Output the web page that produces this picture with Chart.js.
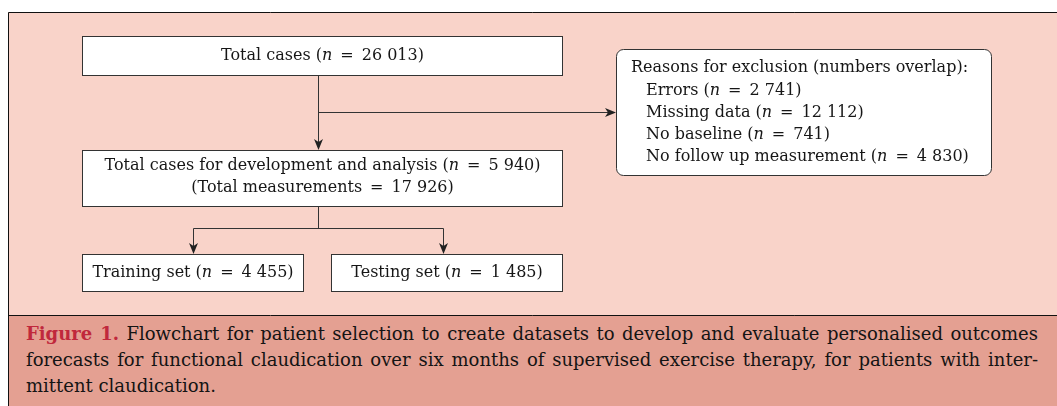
<!DOCTYPE html>
<html>
<head>
<meta charset="utf-8">
<script src="https://cdn.jsdelivr.net/npm/chart.js@4.4.1/dist/chart.umd.min.js"></script>
<style>
  html, body { margin: 0; padding: 0; background: #fff; }
  #wrap { position: relative; width: 1057px; height: 406px; overflow: hidden; }
  #caption {
    position: absolute; left: 9px; top: 316px; width: 1048px; height: 90px;
    background: #e4a092; box-sizing: border-box;
    padding: 5px 19px 0 17px;
    font-family: "DejaVu Serif", serif; font-size: 18px; line-height: 26px;
    color: #141414;
  }
  #caption span { display: block; text-align: justify; text-align-last: justify; white-space: nowrap; }
  #caption span.last { text-align-last: left; }
  #caption b { color: #c0283c; }
</style>
</head>
<body>
<div id="wrap">
  <canvas id="flow"></canvas>
  <div id="caption">
    <span><b>Figure 1.</b> Flowchart for patient selection to create datasets to develop and evaluate personalised outcomes</span>
    <span>forecasts for functional claudication over six months of supervised exercise therapy, for patients with inter-</span>
    <span class="last">mittent claudication.</span>
  </div>
</div>
<script>
// counts
const stages = ["Total cases", "Total cases for development and analysis", "Training set", "Testing set"];
const stageCounts = [26013, 5940, 4455, 1485];
const totalMeasurements = 17926;
const exclusionReasons = ["Errors", "Missing data", "No baseline", "No follow up measurement"];
const exclusionCounts = [2741, 12112, 741, 4830];

// box frames in chart units [x0, x1, y0, y1]
const frames = [[82, 562, 36, 75], [82, 562, 150, 206], [82, 303, 254, 291], [331, 562, 254, 291]];
const exclFrame = [616, 991, 49, 175];

const FONT = '"DejaVu Serif", serif';
const SIZE = 16;
const INK = "#161616";

const fmt = (n) => String(n).replace(/\B(?=(\d{3})+(?!\d))/g, " ");
const EQ = "\u2002=\u2002";
const countParts = (label, n) => [
  { t: label + " (" }, { t: "n", i: true }, { t: EQ + fmt(n) + ")" }
];

function partsWidth(ctx, parts) {
  let w = 0;
  parts.forEach(p => {
    ctx.font = (p.i ? "italic " : "") + SIZE + "px " + FONT;
    w += ctx.measureText(p.t).width;
  });
  return w;
}

function drawParts(ctx, parts, x, y, align) {
  let cx = align === "center" ? x - partsWidth(ctx, parts) / 2 : x;
  ctx.textAlign = "left";
  ctx.textBaseline = "middle";
  ctx.fillStyle = INK;
  parts.forEach(p => {
    ctx.font = (p.i ? "italic " : "") + SIZE + "px " + FONT;
    ctx.fillText(p.t, cx, y);
    cx += ctx.measureText(p.t).width;
  });
}

function arrowHead(ctx, x, y, dir) {
  ctx.beginPath();
  if (dir === "down") {
    ctx.moveTo(x, y); ctx.lineTo(x - 4.5, y - 11); ctx.lineTo(x, y - 8); ctx.lineTo(x + 4.5, y - 11);
  } else {
    ctx.moveTo(x, y); ctx.lineTo(x - 11, y - 4.5); ctx.lineTo(x - 8, y); ctx.lineTo(x - 11, y + 4.5);
  }
  ctx.closePath();
  ctx.fillStyle = "#222";
  ctx.fill();
}

function roundRect(ctx, x, y, w, h, r) {
  ctx.beginPath();
  ctx.moveTo(x + r, y);
  ctx.arcTo(x + w, y, x + w, y + h, r);
  ctx.arcTo(x + w, y + h, x, y + h, r);
  ctx.arcTo(x, y + h, x, y, r);
  ctx.arcTo(x, y, x + w, y, r);
  ctx.closePath();
}

const flowPlugin = {
  id: "flow",
  beforeDraw(chart) {
    const { ctx, scales: { x, y } } = chart;
    const px = v => x.getPixelForValue(v);
    const py = v => y.getPixelForValue(v);
    ctx.save();
    // panel background and frame
    ctx.fillStyle = "#f9d3c9";
    ctx.fillRect(px(8), py(12), px(1057) - px(8), py(316) - py(12));
    ctx.strokeStyle = "#111";
    ctx.lineWidth = 1;
    ctx.beginPath();
    ctx.moveTo(px(8.5), py(406)); ctx.lineTo(px(8.5), py(12.5)); ctx.lineTo(px(1057), py(12.5));
    ctx.moveTo(px(8.5), py(315.5)); ctx.lineTo(px(1057), py(315.5));
    ctx.stroke();
    ctx.restore();
  },
  afterDatasetsDraw(chart) {
    const { ctx, scales: { x, y } } = chart;
    const px = v => x.getPixelForValue(v);
    const py = v => y.getPixelForValue(v);
    ctx.save();
    ctx.strokeStyle = "#333";
    ctx.lineWidth = 1;

    // connectors
    const midX = px(318.5);
    ctx.beginPath();
    ctx.moveTo(midX, py(75)); ctx.lineTo(midX, py(148));
    ctx.moveTo(midX, py(112.5)); ctx.lineTo(px(612), py(112.5));
    ctx.moveTo(midX, py(206)); ctx.lineTo(midX, py(228.5));
    ctx.moveTo(px(193.5), py(252)); ctx.lineTo(px(193.5), py(228.5)); ctx.lineTo(px(443.5), py(228.5)); ctx.lineTo(px(443.5), py(252));
    ctx.stroke();
    arrowHead(ctx, midX, py(150), "down");
    arrowHead(ctx, px(616), py(112.5), "right");
    arrowHead(ctx, px(193.5), py(254), "down");
    arrowHead(ctx, px(443.5), py(254), "down");

    // stage boxes
    frames.forEach((f, k) => {
      const x0 = px(f[0]) + 0.5, x1 = px(f[1]) + 0.5, y0 = py(f[2]) + 0.5, y1 = py(f[3]) + 0.5;
      ctx.fillStyle = "#fff";
      ctx.fillRect(x0, y0, x1 - x0, y1 - y0);
      ctx.strokeStyle = "#333";
      ctx.strokeRect(x0, y0, x1 - x0, y1 - y0);
      const cx = (x0 + x1) / 2;
      if (k === 1) {
        drawParts(ctx, countParts(stages[k], stageCounts[k]), cx, py(166), "center");
        drawParts(ctx, [{ t: "(Total measurements" + EQ + fmt(totalMeasurements) + ")" }], cx, py(188), "center");
      } else {
        drawParts(ctx, countParts(stages[k], stageCounts[k]), cx, (y0 + y1) / 2, "center");
      }
    });

    // exclusion box
    const ex0 = px(exclFrame[0]) + 0.5, ex1 = px(exclFrame[1]) + 0.5;
    const ey0 = py(exclFrame[2]) + 0.5, ey1 = py(exclFrame[3]) + 0.5;
    roundRect(ctx, ex0, ey0, ex1 - ex0, ey1 - ey0, 7);
    ctx.fillStyle = "#fff";
    ctx.fill();
    ctx.strokeStyle = "#333";
    ctx.stroke();
    drawParts(ctx, [{ t: "Reasons for exclusion (numbers overlap):" }], px(631), py(68), "left");
    exclusionReasons.forEach((r, k) => {
      drawParts(ctx, countParts(r, exclusionCounts[k]), px(646), py(90.5 + k * 22.2), "left");
    });
    ctx.restore();
  }
};

new Chart(document.getElementById("flow"), {
  type: "scatter",
  data: {
    datasets: [{
      label: "stages",
      data: frames.map((f, k) => ({ x: (f[0] + f[1]) / 2, y: (f[2] + f[3]) / 2, n: stageCounts[k] })),
      pointRadius: 0,
      pointHoverRadius: 0
    }]
  },
  options: {
    responsive: true,
    maintainAspectRatio: false,
    animation: false,
    layout: { padding: 0 },
    plugins: { legend: { display: false }, tooltip: { enabled: false } },
    scales: {
      x: { type: "linear", min: 0, max: 1057, display: false },
      y: { type: "linear", min: 0, max: 406, reverse: true, display: false }
    }
  },
  plugins: [flowPlugin]
});
</script>
</body>
</html>
